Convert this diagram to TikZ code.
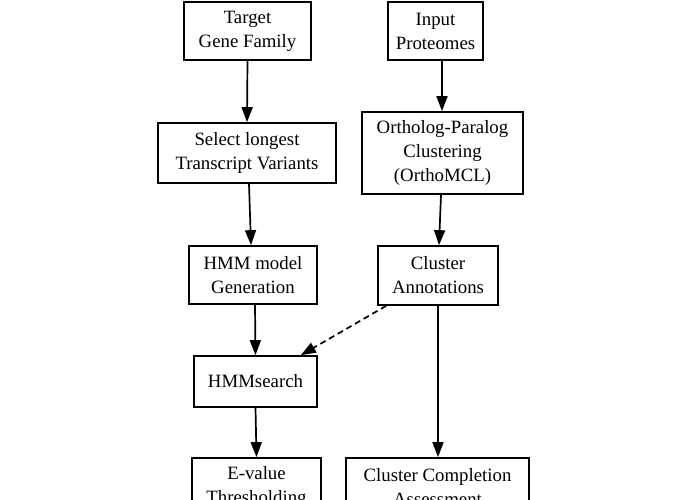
\documentclass[tikz,border=0pt]{standalone}
\usepackage{fontspec}
\setmainfont{Liberation Serif}
\usetikzlibrary{arrows.meta}
\begin{document}
\begin{tikzpicture}[x=1pt,y=-1pt,
  box/.style={draw, line width=1.7pt, align=center, inner sep=0pt,
    font=\fontsize{18.8}{24}\selectfont},
  flow/.style={line width=1.7pt, -{Triangle[length=15pt,width=11pt]}},
  hint/.style={flow, dashed, dash pattern=on 6pt off 4pt}]
\fill[white] (0,0) rectangle (680,500);
\clip (0,0) rectangle (680,500);
\node[box, minimum width=127pt, minimum height=58pt] (tgf) at (247.5,31) {Target\\Gene Family};
\node[box, minimum width=95pt, minimum height=58pt] (inp) at (435.5,31) {Input\\Proteomes};
\node[box, minimum width=178pt, minimum height=60pt] (sel) at (247,153) {Select longest\\Transcript Variants};
\node[box, minimum width=161pt, minimum height=82pt] (orth) at (442.5,153) {Ortholog-Paralog\\Clustering\\(OrthoMCL)};
\node[box, minimum width=128pt, minimum height=58pt] (hmm) at (253,275) {HMM model\\Generation};
\node[box, minimum width=120pt, minimum height=59pt] (ann) at (438,275.5) {Cluster\\Annotations};
\node[box, minimum width=123pt, minimum height=51pt] (srch) at (255.5,381.5) {HMMsearch};
\node[box, minimum width=129pt, minimum height=58pt] (ev) at (256.5,487) {E-value\\Thresholding};
\node[box, minimum width=183pt, minimum height=58pt] (comp) at (437.5,487) {Cluster Completion\\Assessment};
\draw[flow] (tgf.south) -- (sel.north);
\draw[flow] ([xshift=6.5pt]inp.south) -- ([xshift=6.5pt]inp.south |- orth.north);
\draw[flow] ([xshift=2pt]sel.south) -- ([xshift=-2pt]hmm.north);
\draw[flow] ([xshift=-1.5pt]orth.south) -- ([xshift=1pt]ann.north);
\draw[flow] ([xshift=2pt]hmm.south) -- ([xshift=0pt]srch.north);
\draw[flow] (srch.south) -- (ev.north);
\draw[flow] (ann.south) -- (ann.south |- comp.north);
\draw[hint] ([xshift=9pt]ann.south west) -- ([xshift=-17pt]srch.north east);
\end{tikzpicture}
\end{document}
